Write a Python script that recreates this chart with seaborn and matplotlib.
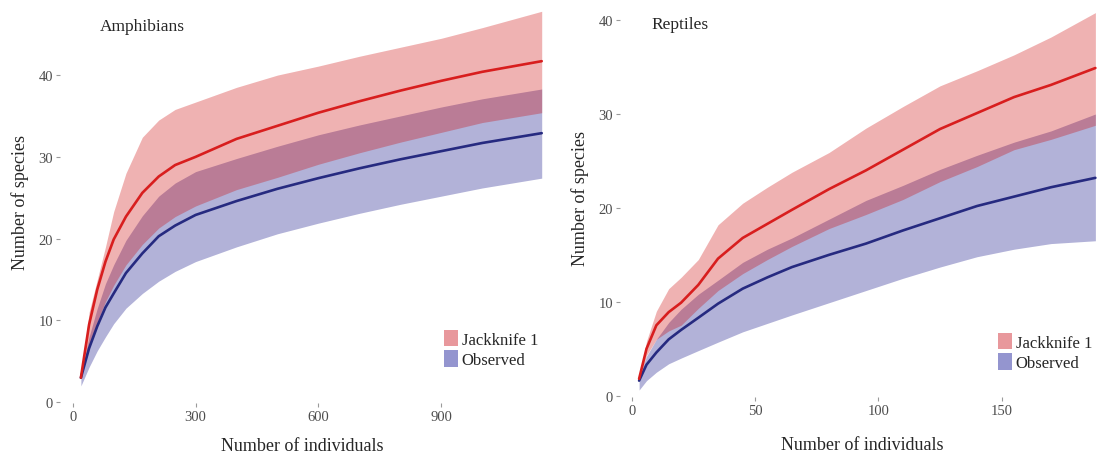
import matplotlib
matplotlib.use("Agg")
import matplotlib.pyplot as plt
from matplotlib.patches import Patch
import seaborn as sns
import pandas as pd

# ---------------- Amphibians ----------------
amph_n = [20, 40, 60, 80, 100, 130, 170, 210, 250, 300, 400, 500, 600, 700, 800, 900, 1000, 1145]
amph_jack = [3.0, 9.5, 13.8, 17.2, 19.9, 22.7, 25.6, 27.6, 29.0, 30.0, 32.2, 33.8, 35.4, 36.8, 38.1, 39.3, 40.4, 41.7]
amph_jack_hi = [3.0, 11.0, 15.0, 19.0, 23.3, 28.0, 32.4, 34.5, 35.8, 36.7, 38.5, 40.0, 41.1, 42.3, 43.4, 44.5, 45.8, 47.8]
amph_jack_lo = [3.0, 7.0, 9.8, 12.3, 14.3, 16.8, 19.3, 21.3, 22.7, 24.0, 26.0, 27.5, 29.1, 30.5, 31.8, 33.0, 34.2, 35.4]
amph_obs = [3.0, 6.6, 9.3, 11.6, 13.3, 15.8, 18.2, 20.3, 21.6, 22.9, 24.6, 26.1, 27.4, 28.6, 29.7, 30.7, 31.7, 32.9]
amph_obs_hi = [3.3, 8.0, 11.5, 14.5, 16.8, 19.8, 22.8, 25.2, 26.8, 28.2, 29.8, 31.3, 32.7, 33.9, 35.0, 36.1, 37.1, 38.3]
amph_obs_lo = [2.0, 4.3, 6.3, 8.0, 9.6, 11.5, 13.3, 14.8, 16.0, 17.2, 19.0, 20.6, 21.9, 23.1, 24.2, 25.2, 26.2, 27.4]

# ---------------- Reptiles ----------------
rept_n = [3, 6, 10, 15, 20, 27, 35, 45, 55, 65, 80, 95, 110, 125, 140, 155, 170, 188]
rept_jack = [1.8, 5.0, 7.5, 8.9, 9.9, 11.8, 14.6, 16.8, 18.3, 19.8, 22.0, 24.0, 26.2, 28.4, 30.1, 31.8, 33.1, 34.9]
rept_jack_hi = [1.8, 5.8, 9.0, 11.4, 12.6, 14.5, 18.2, 20.5, 22.2, 23.8, 25.9, 28.5, 30.8, 33.0, 34.6, 36.3, 38.2, 40.8]
rept_jack_lo = [1.8, 4.3, 6.0, 6.9, 7.5, 9.3, 11.2, 13.0, 14.5, 15.9, 17.8, 19.3, 20.9, 22.8, 24.4, 26.2, 27.3, 28.8]
rept_obs = [1.6, 3.3, 4.6, 6.0, 7.0, 8.3, 9.8, 11.4, 12.6, 13.7, 15.0, 16.2, 17.6, 18.9, 20.2, 21.2, 22.2, 23.2]
rept_obs_hi = [2.0, 4.2, 6.0, 7.8, 9.2, 10.8, 12.3, 14.2, 15.6, 16.8, 18.8, 20.8, 22.4, 24.1, 25.6, 27.0, 28.2, 30.0]
rept_obs_lo = [0.6, 1.6, 2.5, 3.4, 4.0, 4.8, 5.7, 6.8, 7.7, 8.6, 9.9, 11.2, 12.5, 13.7, 14.8, 15.6, 16.2, 16.5]

amph_xticks = [0, 300, 600, 900]
rept_xticks = [0, 50, 100, 150]
amph_yticks = [0, 10, 20, 30, 40]
rept_yticks = [0, 10, 20, 30, 40]
legend_labels = ["Jackknife 1", "Observed"]

sns.set_theme(style="white")
plt.rcParams["font.family"] = ["Liberation Serif", "DejaVu Serif"]

RED_FILL = "#cd0000"
BLUE_FILL = "#000080"
RED_LINE = "#d81e1e"
BLUE_LINE = "#262a80"
KEY_RED = "#e8989c"
KEY_BLUE = "#9495cf"

fig = plt.figure(figsize=(11.05, 4.56), dpi=100)
ax1 = fig.add_axes([0.0543, 0.114, 0.4389, 0.886])
ax2 = fig.add_axes([0.5611, 0.1272, 0.4389, 0.8728])


def draw(ax, n, jack, jhi, jlo, obs, ohi, olo, title, xticks, yticks,
         xlim, ylim, leg_anchor, title_pos, xpad):
    df = pd.DataFrame({"n": n, "jack": jack, "obs": obs})
    ax.fill_between(n, olo, ohi, color=BLUE_FILL, alpha=0.3, linewidth=0)
    ax.fill_between(n, jlo, jhi, color=RED_FILL, alpha=0.3, linewidth=0)
    sns.lineplot(data=df, x="n", y="obs", ax=ax, color=BLUE_LINE, linewidth=1.9)
    sns.lineplot(data=df, x="n", y="jack", ax=ax, color=RED_LINE, linewidth=1.9)
    ax.set_xlim(*xlim)
    ax.set_ylim(*ylim)
    ax.set_xticks(xticks)
    ax.set_yticks(yticks)
    for s in ax.spines.values():
        s.set_visible(False)
    ax.tick_params(axis="both", which="major", length=3, width=0.8,
                   color="#9a9a9a", labelcolor="#4d4d4d", labelsize=10.5,
                   bottom=True, left=True, pad=2)
    ax.set_xlabel("Number of individuals", fontsize=13, labelpad=xpad)
    ax.set_ylabel("Number of species", fontsize=13, labelpad=7)
    ax.text(title_pos[0], title_pos[1], title, transform=ax.transAxes,
            fontsize=12.5, ha="left", va="center")
    handles = [Patch(facecolor=KEY_RED, edgecolor="none"),
               Patch(facecolor=KEY_BLUE, edgecolor="none")]
    ax.legend(handles, legend_labels, loc="upper left", bbox_to_anchor=leg_anchor,
              frameon=False, fontsize=12, handlelength=0.85, handleheight=1.15,
              handletextpad=0.2, labelspacing=0.15, borderpad=0, borderaxespad=0)


draw(ax1, amph_n, amph_jack, amph_jack_hi, amph_jack_lo, amph_obs, amph_obs_hi,
     amph_obs_lo, "Amphibians", amph_xticks, amph_yticks, (-31, 1153), (-0.09, 49.3),
     (0.792, 0.181), (0.082, 0.933), 10)
draw(ax2, rept_n, rept_jack, rept_jack_hi, rept_jack_lo, rept_obs, rept_obs_hi,
     rept_obs_lo, "Reptiles", rept_xticks, rept_yticks, (-4.74, 191.9), (-0.14, 42.25),
     (0.78, 0.161), (0.064, 0.937), 14)

fig.savefig("out.png", dpi=100)
